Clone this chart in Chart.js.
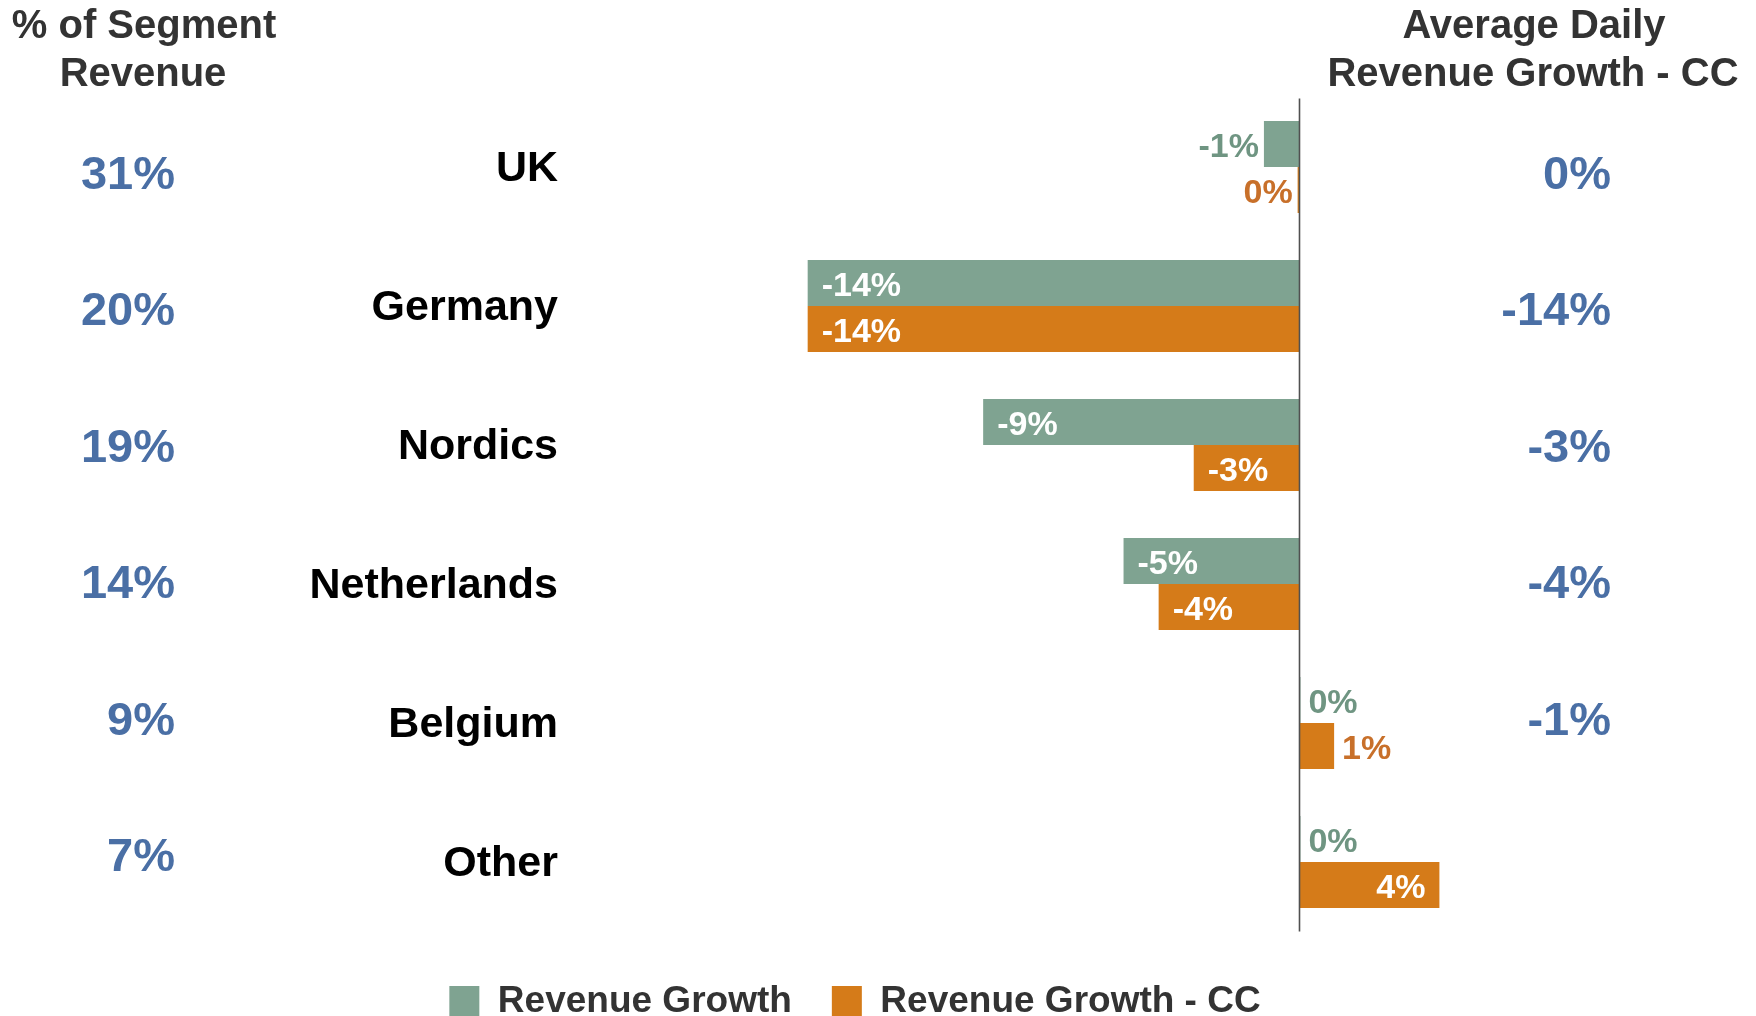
<!DOCTYPE html>
<html>
<head>
<meta charset="utf-8">
<script src="https://cdn.jsdelivr.net/npm/chart.js@4/dist/chart.umd.min.js"></script>
<style>
  html, body { margin: 0; padding: 0; background: #ffffff; }
  #wrap { width: 1756px; height: 1016px; position: relative; }
</style>
</head>
<body>
<div id="wrap"><canvas id="c" width="1756" height="1016"></canvas></div>
<script>
// ---- data ----
const categories = ['UK', 'Germany', 'Nordics', 'Netherlands', 'Belgium', 'Other'];
const revenueGrowth = [-1, -14, -9, -5, 0.04, 0.04];
const revenueGrowthCC = [-0.04, -14, -3, -4, 1, 4];
const segmentShare = ['31%', '20%', '19%', '14%', '9%', '7%'];
const avgDailyGrowthCC = ['0%', '-14%', '-3%', '-4%', '-1%', ''];
const seriesNames = ['Revenue Growth', 'Revenue Growth - CC'];
const leftHeader = ['% of Segment', 'Revenue'];
const rightHeader = ['Average Daily', 'Revenue Growth - CC'];

// ---- styles ----
const FONT = '"Liberation Sans", Arial, Helvetica, sans-serif';
const GREEN = '#7FA391';
const ORANGE = '#D57B19';
const BLUE = '#4A6FA5';
const DARK = '#333333';

Chart.defaults.font.family = FONT;

const zeroLine = {
  id: 'zeroLine',
  afterDatasetsDraw(chart) {
    const { ctx, chartArea, scales: { x } } = chart;
    const px = Math.round(x.getPixelForValue(0)) + 0.5;
    ctx.save();
    ctx.strokeStyle = '#505050';
    ctx.lineWidth = 1.6;
    ctx.beginPath();
    ctx.moveTo(px, chartArea.top + 1);
    ctx.lineTo(px, chartArea.bottom);
    ctx.stroke();
    ctx.restore();
  }
};

const barLabels = {
  id: 'barLabels',
  afterDatasetsDraw(chart) {
    const ctx = chart.ctx;
    ctx.save();
    ctx.font = 'bold 34px ' + FONT;
    ctx.textBaseline = 'middle';
    chart.data.datasets.forEach((ds, di) => {
      const meta = chart.getDatasetMeta(di);
      meta.data.forEach((bar, i) => {
        const v = ds.data[i];
        const r = Math.round(v);
        const txt = (r === 0 ? 0 : r) + '%';
        const tw = ctx.measureText(txt).width;
        const p = bar.getProps(['x', 'y', 'base'], true);
        const len = Math.abs(p.x - p.base);
        const neg = v < 0;
        const yy = p.y + 4;
        const pad = 14;
        if (len > tw + 2 * pad) {
          ctx.fillStyle = '#ffffff';
          ctx.textAlign = neg ? 'left' : 'right';
          ctx.fillText(txt, neg ? p.x + pad : p.x - pad, yy);
        } else {
          ctx.fillStyle = ds.labelColor;
          ctx.textAlign = neg ? 'right' : 'left';
          ctx.fillText(txt, neg ? p.x - 5 : p.x + 8, yy);
        }
      });
    });
    ctx.restore();
  }
};

const sideText = {
  id: 'sideText',
  afterDraw(chart) {
    const { ctx, scales: { y } } = chart;
    ctx.save();
    ctx.textBaseline = 'middle';
    ctx.textAlign = 'right';
    ctx.fillStyle = BLUE;
    ctx.font = 'bold 47px ' + FONT;
    const y0 = y.getPixelForValue(0);
    categories.forEach((c, i) => {
      const yy = y0 + 9 + (y.getPixelForValue(i) - y0) * 0.982;
      ctx.fillText(segmentShare[i], 175, yy);
      if (avgDailyGrowthCC[i]) ctx.fillText(avgDailyGrowthCC[i], 1611, yy);
    });
    ctx.fillStyle = DARK;
    ctx.textAlign = 'center';
    ctx.font = 'bold 40px ' + FONT;
    ctx.fillText(leftHeader[0], 144, 27);
    ctx.fillText(leftHeader[1], 143, 75);
    ctx.fillText(rightHeader[0], 1534, 27);
    ctx.fillText(rightHeader[1], 1533, 75);
    ctx.restore();
  }
};

new Chart(document.getElementById('c'), {
  type: 'bar',
  data: {
    labels: categories,
    datasets: [
      { label: seriesNames[0], data: revenueGrowth, backgroundColor: GREEN, labelColor: '#6F9582', borderWidth: 0 },
      { label: seriesNames[1], data: revenueGrowthCC, backgroundColor: ORANGE, labelColor: '#C8702A', borderWidth: 0 }
    ]
  },
  options: {
    indexAxis: 'y',
    responsive: false,
    animation: false,
    categoryPercentage: 0.662,
    barPercentage: 1.0,
    layout: { padding: { top: 97.5, left: 0, right: 46, bottom: -14 } },
    scales: {
      x: {
        type: 'linear',
        min: -21,
        max: 11.71,
        display: true,
        grid: { display: false, drawTicks: false },
        border: { display: false },
        ticks: { display: false },
        afterFit(s) { s.height = 11.5; }
      },
      y: {
        type: 'category',
        grid: { display: false, drawTicks: false },
        border: { display: false },
        ticks: { color: '#000000', padding: 4, labelOffset: 2, font: { size: 43, weight: 'bold', family: FONT } },
        afterFit(s) { s.width = 562; }
      }
    },
    plugins: {
      tooltip: { enabled: false },
      legend: {
        position: 'bottom',
        labels: {
          boxWidth: 30,
          boxHeight: 31,
          padding: 40,
          color: DARK,
          font: { size: 37, weight: 'bold', family: FONT }
        }
      }
    }
  },
  plugins: [zeroLine, barLabels, sideText]
});
</script>
</body>
</html>
